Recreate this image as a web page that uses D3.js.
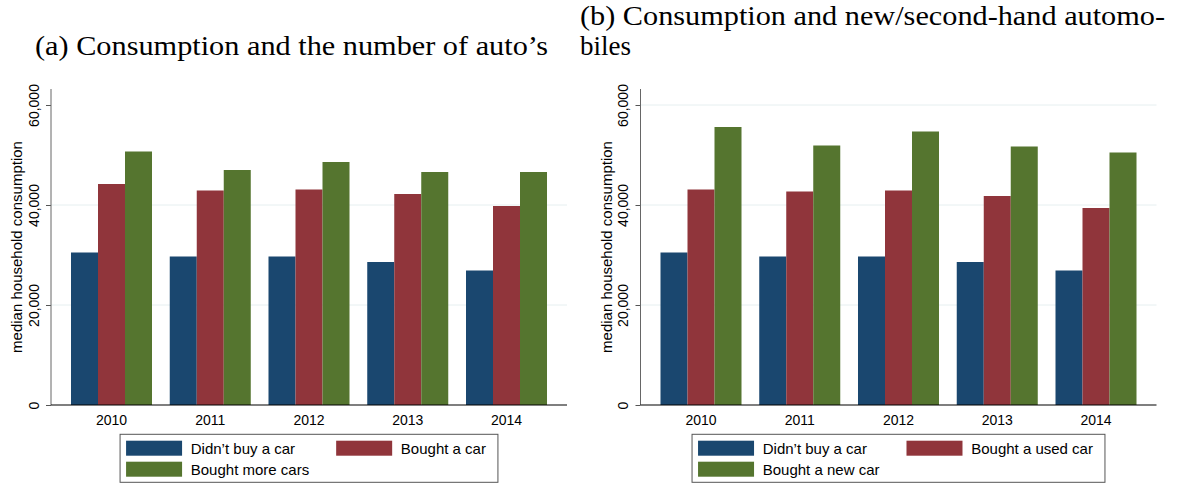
<!DOCTYPE html>
<html>
<head>
<meta charset="utf-8">
<script src="https://cdn.jsdelivr.net/npm/d3@7"></script>
<style>
  html, body { margin: 0; padding: 0; background: #fff; }
  svg { display: block; }
  .sans { font-family: "Liberation Sans", Arial, Helvetica, sans-serif; fill: #000; }
  .serif { font-family: "Liberation Serif", "DejaVu Serif", serif; fill: #000; }
</style>
</head>
<body>
<svg id="chart" width="1179" height="484"></svg>
<script>
// Survey years on the category axis
const years = ["2010", "2011", "2012", "2013", "2014"];

// Median household consumption by car-purchase status
const didntBuy   = [30500, 29700, 29700, 28600, 26900];
const boughtCar  = [44200, 42900, 43100, 42200, 39800];
const boughtMore = [50700, 47000, 48600, 46600, 46600];
const boughtUsed = [43100, 42700, 42900, 41800, 39400];
const boughtNew  = [55600, 51900, 54700, 51700, 50500];

// Y axis ticks
const yTicks = [0, 20000, 40000, 60000];

// Legend labels
const labelsA = ["Didn\u2019t buy a car", "Bought a car", "Bought more cars"];
const labelsB = ["Didn\u2019t buy a car", "Bought a used car", "Bought a new car"];

const colors = ["#1a476f", "#90353b", "#55752f"];

const svg = d3.select("#chart");

function drawPanel(offsetX, series, labels, gridTicks) {
  const g = svg.append("g").attr("transform", `translate(${offsetX},0)`);
  const left = 51, right = 567, top = 89, bottom = 405;

  const y = d3.scaleLinear().domain([0, 63200]).range([bottom, top]);
  const x = d3.scaleBand().domain(years).range([left, right])
    .paddingInner(0.1797).paddingOuter(0.2025);
  const xs = d3.scaleBand().domain(d3.range(series.length)).range([0, x.bandwidth()]);

  // light horizontal gridlines
  g.append("g").selectAll("line").data(gridTicks).join("line")
    .attr("x1", left).attr("x2", right)
    .attr("y1", d => y(d)).attr("y2", d => y(d))
    .attr("stroke", "#e6eff0").attr("stroke-width", 1);

  // bars
  const rows = years.map((yr, i) => series.map((s, k) => ({ yr, k, v: s[i] })));
  g.append("g").selectAll("g").data(rows).join("g")
    .attr("transform", d => `translate(${x(d[0].yr)},0)`)
    .selectAll("rect").data(d => d).join("rect")
    .attr("x", d => xs(d.k))
    .attr("width", xs.bandwidth())
    .attr("y", d => y(d.v))
    .attr("height", d => y(0) - y(d.v))
    .attr("fill", d => colors[d.k]);

  // y axis
  const yAxis = g.append("g").attr("transform", `translate(${left},0)`)
    .call(d3.axisLeft(y).tickValues(yTicks).tickSize(5).tickFormat(d3.format(",")));
  yAxis.select(".domain").remove();
  yAxis.selectAll(".tick line").attr("stroke", "#555");
  yAxis.selectAll(".tick text")
    .attr("class", "sans")
    .style("font-size", "14px")
    .attr("x", null).attr("dy", null)
    .attr("text-anchor", "middle")
    .attr("transform", "translate(-12.5,0) rotate(-90)");
  g.append("line").attr("x1", left).attr("x2", left).attr("y1", top).attr("y2", bottom)
    .attr("stroke", "#666").attr("stroke-width", 1);

  // x axis
  const xAxis = g.append("g").attr("transform", `translate(0,${bottom})`)
    .call(d3.axisBottom(x).tickSize(0).tickPadding(0));
  xAxis.select(".domain").remove();
  xAxis.selectAll(".tick text")
    .attr("class", "sans")
    .style("font-size", "14px")
    .attr("y", 20).attr("dy", null);
  g.append("line").attr("x1", left).attr("x2", right).attr("y1", bottom).attr("y2", bottom)
    .attr("stroke", "#000").attr("stroke-width", 1.2);

  // axis title
  g.append("text").attr("class", "sans")
    .style("font-size", "15px")
    .attr("text-anchor", "middle")
    .attr("transform", `translate(22,${(top + bottom) / 2}) rotate(-90)`)
    .text("median household consumption");

  // legend
  const leg = g.append("g");
  const sw = 56, sh = 15, gapT = 8.7, colGap = 27, padL = 6, padR = 12;
  const measure = t => {
    const n = leg.append("text").attr("class", "sans").style("font-size", "15px").text(t);
    const w = n.node().getComputedTextLength();
    n.remove();
    return w;
  };
  const col1W = sw + gapT + Math.max(measure(labels[0]), measure(labels[2]));
  const col2W = sw + gapT + measure(labels[1]);
  const boxW = padL + col1W + colGap + col2W + padR;
  const boxX = (left + right) / 2 - boxW / 2;
  const boxY = 434.3, boxH = 48;
  leg.append("rect").attr("x", boxX).attr("y", boxY).attr("width", boxW).attr("height", boxH)
    .attr("fill", "#fff").attr("stroke", "#555").attr("stroke-width", 1);
  const pos = [
    { x: boxX + padL, y: 440.7 },
    { x: boxX + padL + col1W + colGap, y: 440.7 },
    { x: boxX + padL, y: 461.7 }
  ];
  labels.forEach((lab, k) => {
    leg.append("rect").attr("x", pos[k].x).attr("y", pos[k].y).attr("width", sw).attr("height", sh)
      .attr("fill", colors[k]);
    leg.append("text").attr("class", "sans").style("font-size", "15px")
      .attr("x", pos[k].x + sw + gapT).attr("y", pos[k].y + 13)
      .text(lab);
  });
}

drawPanel(0, [didntBuy, boughtCar, boughtMore], labelsA, [20000, 40000]);
drawPanel(589.5, [didntBuy, boughtUsed, boughtNew], labelsB, [20000, 40000, 60000]);

// panel titles
svg.append("text").attr("class", "serif").style("font-size", "27px")
  .attr("x", 35).attr("y", 55)
  .attr("textLength", 513).attr("lengthAdjust", "spacingAndGlyphs")
  .text("(a) Consumption and the number of auto\u2019s");
svg.append("text").attr("class", "serif").style("font-size", "27px")
  .attr("x", 580).attr("y", 24.5)
  .attr("textLength", 585).attr("lengthAdjust", "spacingAndGlyphs")
  .text("(b) Consumption and new/second-hand automo-");
svg.append("text").attr("class", "serif").style("font-size", "27px")
  .attr("x", 580).attr("y", 55)
  .text("biles");
</script>
</body>
</html>
